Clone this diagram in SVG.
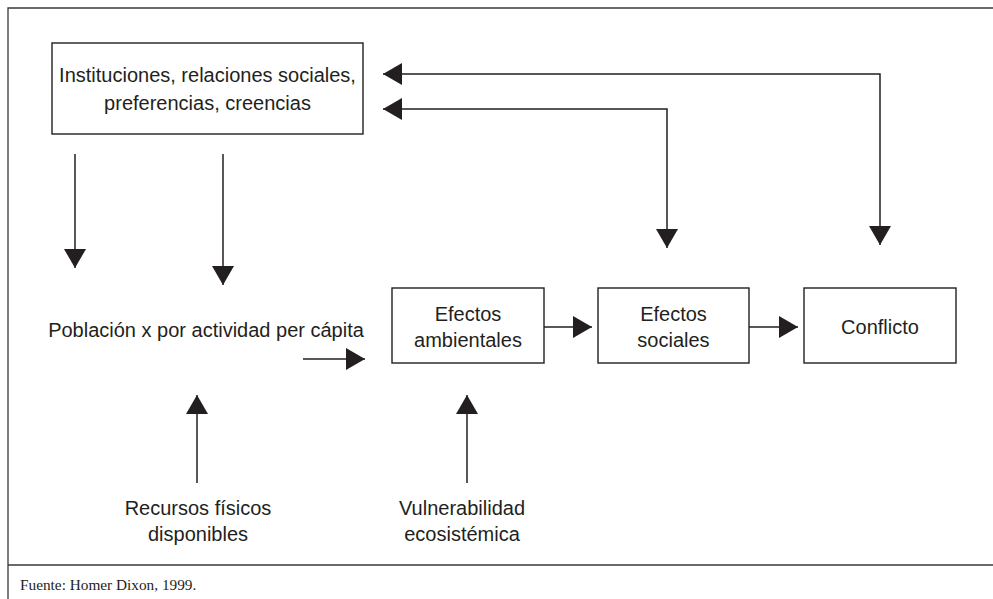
<svg xmlns="http://www.w3.org/2000/svg" width="993" height="599" viewBox="0 0 993 599">
<style>
.frame{fill:none;stroke:#3a3a3a;stroke-width:1.3}
.box{fill:#fff;stroke:#231f20;stroke-width:1.4}
.t{font-family:"Liberation Sans",Arial,sans-serif;font-size:20px;fill:#231f20;text-anchor:middle}
.src{font-family:"Liberation Serif","Times New Roman",serif;font-size:15.3px;fill:#231f20}
.c{fill:none;stroke:#231f20;stroke-width:1.5}
.e{marker-end:url(#ah)}
.b{marker-start:url(#ah);marker-end:url(#ah)}
</style>
<defs>
<marker id="ah" viewBox="0 0 19 22" refX="19" refY="11" markerWidth="19" markerHeight="22" markerUnits="userSpaceOnUse" orient="auto-start-reverse">
<path d="M0,0 L19,11 L0,22 Z" fill="#231f20"/>
</marker>
</defs>
<rect width="993" height="599" fill="#fff"/>
<g id="frame">
<path class="frame" d="M993,8 H8 V599 M8,565 H993"/>
</g>
<g id="connectors">
<path class="c b" d="M383,74 H880 V245"/>
<path class="c b" d="M383,109 H667 V248"/>
<path class="c e" d="M75,154 V268"/>
<path class="c e" d="M223,154 V285"/>
<path class="c e" d="M303,359 H365"/>
<path class="c e" d="M544,327 H592"/>
<path class="c e" d="M749,327 H798"/>
<path class="c e" d="M197,483 V395"/>
<path class="c e" d="M467,483 V395"/>
</g>
<g id="instituciones">
<rect class="box" x="52" y="43" width="311" height="91"/>
<text class="t" x="207.5" y="82">Instituciones, relaciones sociales,</text>
<text class="t" x="207.5" y="110">preferencias, creencias</text>
</g>
<g id="poblacion">
<text class="t" x="206" y="337">Población x por actividad per cápita</text>
</g>
<g id="efectos-ambientales">
<rect class="box" x="392" y="288" width="152" height="75"/>
<text class="t" x="468" y="321">Efectos</text>
<text class="t" x="468" y="347">ambientales</text>
</g>
<g id="efectos-sociales">
<rect class="box" x="598" y="288" width="151" height="75"/>
<text class="t" x="673.5" y="321">Efectos</text>
<text class="t" x="673.5" y="347">sociales</text>
</g>
<g id="conflicto">
<rect class="box" x="804" y="288" width="152" height="75"/>
<text class="t" x="880" y="334">Conflicto</text>
</g>
<g id="recursos">
<text class="t" x="198" y="515">Recursos físicos</text>
<text class="t" x="198" y="541">disponibles</text>
</g>
<g id="vulnerabilidad">
<text class="t" x="462" y="515">Vulnerabilidad</text>
<text class="t" x="462" y="541">ecosistémica</text>
</g>
<g id="fuente">
<text class="src" x="20" y="590">Fuente: Homer Dixon, 1999.</text>
</g>
</svg>
